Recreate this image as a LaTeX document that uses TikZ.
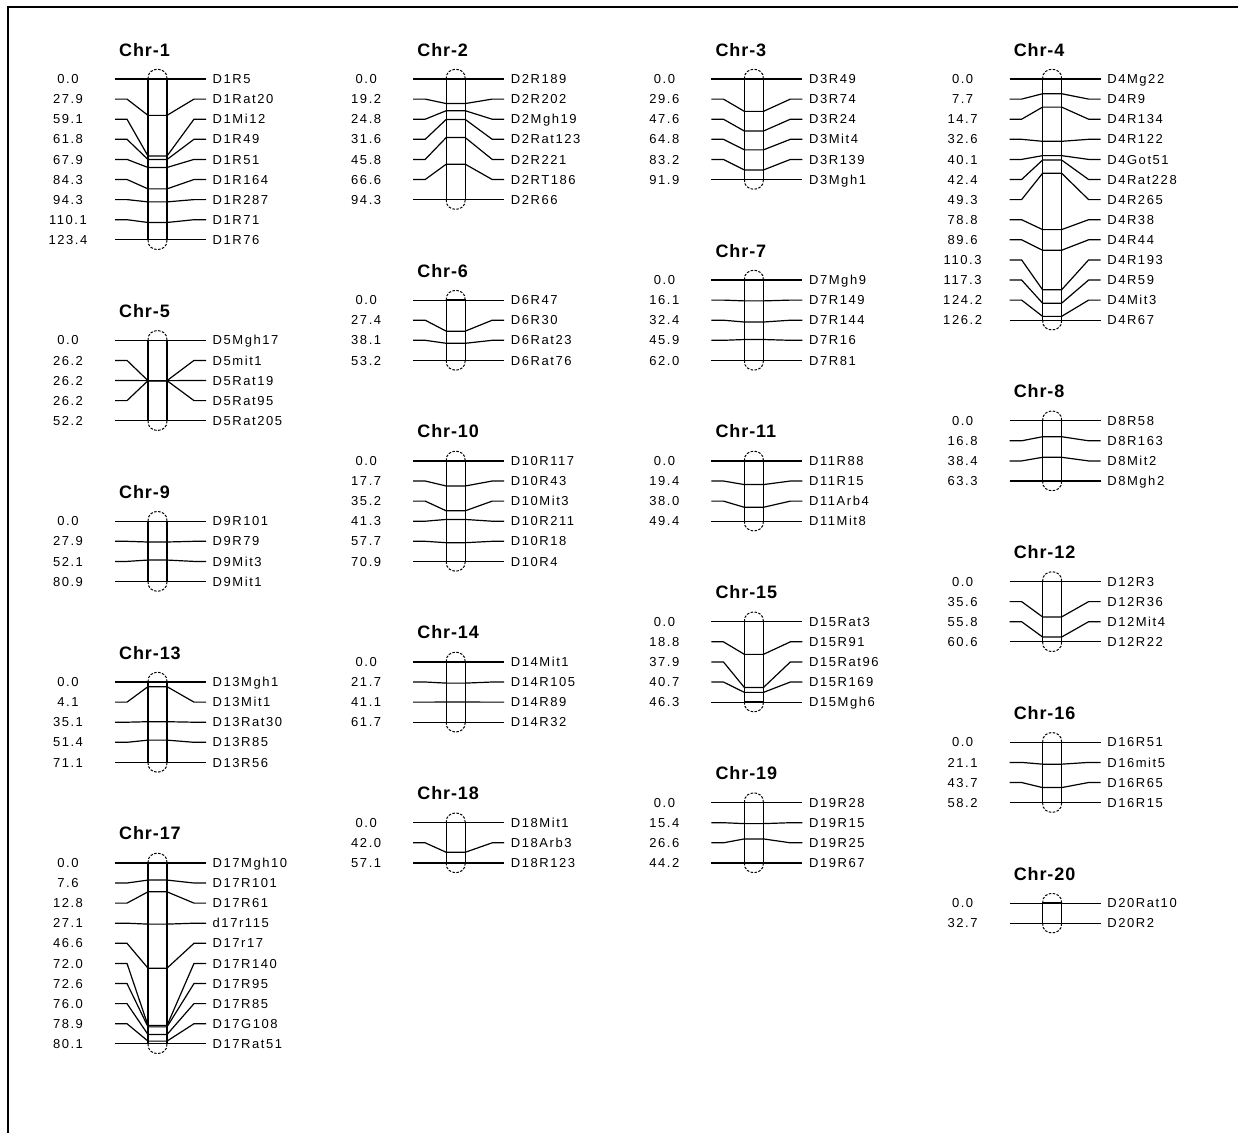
\documentclass[tikz,border=0pt]{standalone}
\usepackage{fontspec}
\setmainfont{Liberation Sans}
\newfontfamily\labfont[LetterSpace=12]{Liberation Sans}
\newfontfamily\ttlfont[LetterSpace=5]{Liberation Sans}
\tikzset{
  num/.style={font=\labfont\fontsize{13}{15}\selectfont, inner sep=0pt, text height=9.3pt, text depth=0pt, anchor=center},
  mklab/.style={font=\labfont\fontsize{13}{15}\selectfont, inner sep=0pt, text height=9.3pt, text depth=0pt, anchor=west},
  ttl/.style={font=\ttlfont\bfseries\fontsize{18}{20}\selectfont, inner sep=0pt, anchor=base west},
  barline/.style={line width=1.3pt},
  capline/.style={line width=1pt, dash pattern=on 2.5pt off 1.5pt},
  conn/.style={line width=1.2pt}
}
\def\chrom#1#2#3#4#5#6#7{%
  \pgfmathsetmacro\cx{#3}%
  \pgfmathsetmacro\ytop{#4}%
  \pgfmathsetmacro\ybot{#4+(#5-1)*20.1}%
  \pgfmathsetmacro\len{\ybot-\ytop}%
  \node[ttl] (#1-t) at (\cx-38.5,\ytop-23) {#2};
  \draw[capline] (\cx-9.5,\ytop) .. controls (\cx-10.5,\ytop-13) and (\cx+10.5,\ytop-13) .. (\cx+9.5,\ytop);
  \draw[capline] (\cx-9.5,\ybot) .. controls (\cx-10.5,\ybot+13) and (\cx+10.5,\ybot+13) .. (\cx+9.5,\ybot);
  \draw[barline] (\cx-9.5,\ytop) rectangle (\cx+9.5,\ybot);
  \foreach \p/\mk [count=\i] in {#7} {
    \pgfmathsetmacro\ry{\ytop+(\i-1)*20.1}
    \pgfmathsetmacro\by{\ytop+\p/#6*\len}
    \node[num] (#1-n\i) at (\cx-89.5,\ry) {\p};
    \node[mklab] (#1-l\i) at (\cx+55,\ry) {\mk};
    \coordinate (#1-a\i) at (\cx-42.5,\ry);
    \coordinate (#1-b\i) at (\cx+48.5,\ry);
    \draw[conn] (#1-a\i) -- ++(12,0) -- (\cx-9.5,\by) -- (\cx+9.5,\by) -- (\cx+36.5,\ry) -- (#1-b\i);
  }
}
\begin{document}
\begin{tikzpicture}[x=1pt,y=-1pt]
\useasboundingbox (0,0) rectangle (1238,1133);
\fill[white] (0,0) rectangle (1238,1133);
\draw[line width=2pt] (8,1133) -- (8,7) -- (1238,7);
% column 1
\chrom{c1}{Chr-1}{157.5}{79}{9}{123.4}{0.0/D1R5,27.9/D1Rat20,59.1/D1Mi12,61.8/D1R49,67.9/D1R51,84.3/D1R164,94.3/D1R287,110.1/D1R71,123.4/D1R76}
\chrom{c5}{Chr-5}{157.5}{340.3}{5}{52.2}{0.0/D5Mgh17,26.2/D5mit1,26.2/D5Rat19,26.2/D5Rat95,52.2/D5Rat205}
\chrom{c9}{Chr-9}{157.5}{521.2}{4}{80.9}{0.0/D9R101,27.9/D9R79,52.1/D9Mit3,80.9/D9Mit1}
\chrom{c13}{Chr-13}{157.5}{682}{5}{71.1}{0.0/D13Mgh1,4.1/D13Mit1,35.1/D13Rat30,51.4/D13R85,71.1/D13R56}
\chrom{c17}{Chr-17}{157.5}{862.9}{10}{80.1}{0.0/D17Mgh10,7.6/D17R101,12.8/D17R61,27.1/d17r115,46.6/D17r17,72.0/D17R140,72.6/D17R95,76.0/D17R85,78.9/D17G108,80.1/D17Rat51}
% column 2
\chrom{c2}{Chr-2}{455.7}{79}{7}{94.3}{0.0/D2R189,19.2/D2R202,24.8/D2Mgh19,31.6/D2Rat123,45.8/D2R221,66.6/D2RT186,94.3/D2R66}
\chrom{c6}{Chr-6}{455.7}{300.1}{4}{53.2}{0.0/D6R47,27.4/D6R30,38.1/D6Rat23,53.2/D6Rat76}
\chrom{c10}{Chr-10}{455.7}{460.9}{6}{70.9}{0.0/D10R117,17.7/D10R43,35.2/D10Mit3,41.3/D10R211,57.7/D10R18,70.9/D10R4}
\chrom{c14}{Chr-14}{455.7}{661.9}{4}{61.7}{0.0/D14Mit1,21.7/D14R105,41.1/D14R89,61.7/D14R32}
\chrom{c18}{Chr-18}{455.7}{822.7}{3}{57.1}{0.0/D18Mit1,42.0/D18Arb3,57.1/D18R123}
% column 3
\chrom{c3}{Chr-3}{753.9}{79}{6}{91.9}{0.0/D3R49,29.6/D3R74,47.6/D3R24,64.8/D3Mit4,83.2/D3R139,91.9/D3Mgh1}
\chrom{c7}{Chr-7}{753.9}{280}{5}{62.0}{0.0/D7Mgh9,16.1/D7R149,32.4/D7R144,45.9/D7R16,62.0/D7R81}
\chrom{c11}{Chr-11}{753.9}{460.9}{4}{49.4}{0.0/D11R88,19.4/D11R15,38.0/D11Arb4,49.4/D11Mit8}
\chrom{c15}{Chr-15}{753.9}{621.7}{5}{46.3}{0.0/D15Rat3,18.8/D15R91,37.9/D15Rat96,40.7/D15R169,46.3/D15Mgh6}
\chrom{c19}{Chr-19}{753.9}{802.6}{4}{44.2}{0.0/D19R28,15.4/D19R15,26.6/D19R25,44.2/D19R67}
% column 4
\chrom{c4}{Chr-4}{1052.1}{79}{13}{126.2}{0.0/D4Mg22,7.7/D4R9,14.7/D4R134,32.6/D4R122,40.1/D4Got51,42.4/D4Rat228,49.3/D4R265,78.8/D4R38,89.6/D4R44,110.3/D4R193,117.3/D4R59,124.2/D4Mit3,126.2/D4R67}
\chrom{c8}{Chr-8}{1052.1}{420.7}{4}{63.3}{0.0/D8R58,16.8/D8R163,38.4/D8Mit2,63.3/D8Mgh2}
\chrom{c12}{Chr-12}{1052.1}{581.5}{4}{60.6}{0.0/D12R3,35.6/D12R36,55.8/D12Mit4,60.6/D12R22}
\chrom{c16}{Chr-16}{1052.1}{742.3}{4}{58.2}{0.0/D16R51,21.1/D16mit5,43.7/D16R65,58.2/D16R15}
\chrom{c20}{Chr-20}{1052.1}{903.1}{2}{32.7}{0.0/D20Rat10,32.7/D20R2}
\end{tikzpicture}
\end{document}
